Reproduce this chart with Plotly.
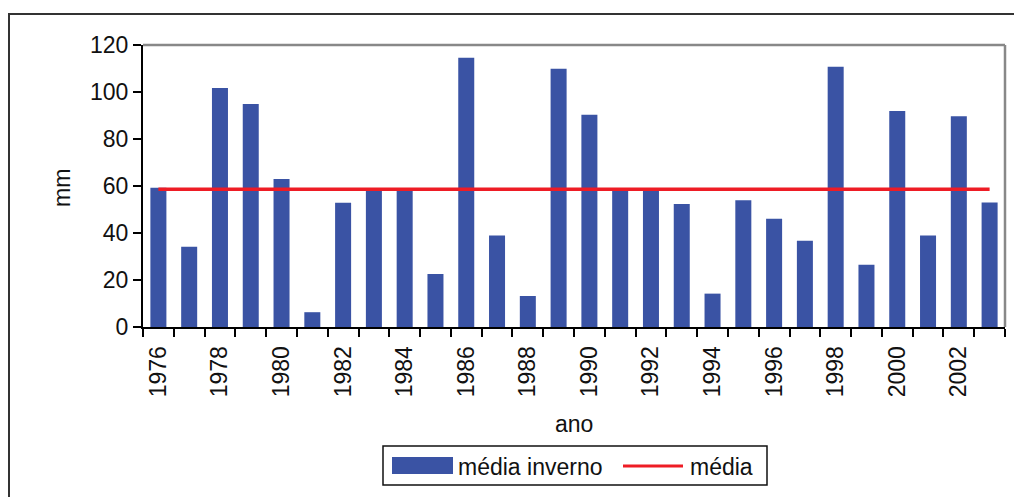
import plotly.graph_objects as go

anos = list(range(1976, 2004))
media_inverno = [59.3, 34.2, 101.7, 94.9, 63.0, 6.3, 52.9, 58.3, 58.3, 22.6,
                 114.6, 38.9, 13.2, 109.9, 90.3, 58.3, 58.3, 52.3, 14.2, 53.9,
                 46.1, 36.7, 110.7, 26.5, 91.9, 38.9, 89.7, 53.0]
media_valor = 58.6
media_serie = [media_valor] * len(anos)
rotulos_x = [a for a in anos if a % 2 == 0]
ticks_y = [0, 20, 40, 60, 80, 100, 120]
nomes = ["média inverno", "média"]

AZUL = "#3A53A4"
VERMELHO = "#EE1C25"
FONT = "Liberation Sans, Arial, sans-serif"
FS = 23

# plot area in pixels: x 143..1005, y 45..327
L, R, T, B = 143, 1005, 45, 327
def px(x):
    return (x - L) / (R - L)
def py(y):
    return (B - y) / (B - T)

fig = go.Figure()
fig.add_trace(go.Bar(x=anos, y=media_inverno, marker=dict(color=AZUL, line=dict(width=0)),
                     showlegend=False, name=nomes[0]))
fig.add_trace(go.Scatter(x=anos, y=media_serie, mode="lines",
                         line=dict(color=VERMELHO, width=3.5), showlegend=False, name=nomes[1]))

fig.update_layout(
    width=1014, height=497,
    margin=dict(l=L, r=1014 - R, t=T, b=497 - B),
    paper_bgcolor="white", plot_bgcolor="white",
    font=dict(family=FONT, size=FS, color="#111"),
    bargap=0.48,
    showlegend=False,
    xaxis=dict(range=[anos[0] - 0.5, anos[-1] + 0.5], tickmode="array", tickvals=rotulos_x,
               ticktext=[str(a) for a in rotulos_x], tickangle=-90, automargin=False,
               ticks="outside", ticklen=8, tickcolor="rgba(0,0,0,0)", ticklabelstandoff=0,
               minor=dict(tickmode="array", tickvals=[a - 0.5 for a in anos] + [anos[-1] + 0.5],
                          ticks="outside", ticklen=8, tickwidth=1.5, tickcolor="black"),
               showline=True, linecolor="black", linewidth=2, showgrid=False, zeroline=False),
    yaxis=dict(range=[0, 120], tickmode="array", tickvals=ticks_y, automargin=False,
               ticks="outside", ticklen=8, tickwidth=1.5, tickcolor="black", ticklabelstandoff=0,
               showline=True, linecolor="black", linewidth=2, showgrid=False, zeroline=False),
    shapes=[
        dict(type="line", xref="paper", yref="paper", x0=0, x1=1, y0=1, y1=1,
             line=dict(color="#888", width=2.5)),
        dict(type="line", xref="paper", yref="paper", x0=1, x1=1, y0=0, y1=1,
             line=dict(color="#888", width=2.5)),
        # outer frame
        dict(type="rect", xref="paper", yref="paper", x0=px(9), x1=px(1030), y0=py(510), y1=py(14),
             line=dict(color="#333", width=2)),
        # legend box
        dict(type="rect", xref="paper", yref="paper", x0=px(383), x1=px(767), y0=py(485), y1=py(446),
             line=dict(color="#111", width=1.5), fillcolor="white"),
        dict(type="rect", xref="paper", yref="paper", x0=px(392), x1=px(453), y0=py(474), y1=py(457),
             line=dict(width=0), fillcolor=AZUL),
        dict(type="line", xref="paper", yref="paper", x0=px(623), x1=px(683), y0=py(466), y1=py(466),
             line=dict(color=VERMELHO, width=3)),
    ],
    annotations=[
        dict(text="mm", xref="paper", yref="paper", x=px(62), y=py(188), textangle=-90,
             showarrow=False, xanchor="center", yanchor="middle", font=dict(size=FS)),
        dict(text="ano", xref="paper", yref="paper", x=px(574), y=py(424),
             showarrow=False, xanchor="center", yanchor="middle", font=dict(size=FS)),
        dict(text=nomes[0], xref="paper", yref="paper", x=px(456), y=py(467),
             showarrow=False, xanchor="left", yanchor="middle", font=dict(size=FS)),
        dict(text=nomes[1], xref="paper", yref="paper", x=px(688), y=py(467),
             showarrow=False, xanchor="left", yanchor="middle", font=dict(size=FS)),
    ],
)

fig.write_html("out.html", config={"displayModeBar": False},
               post_script="document.body.style.margin='0';document.body.style.overflow='hidden';")
